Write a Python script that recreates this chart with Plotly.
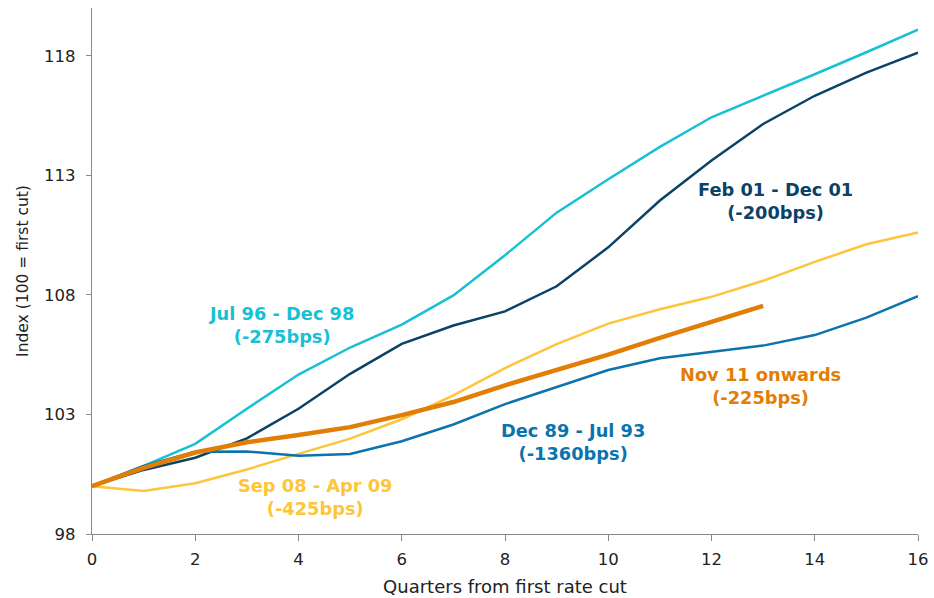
import plotly.graph_objects as go

quarters = list(range(17))
jul96_dec98 = [100, 100.85, 101.77, 103.24, 104.67, 105.8, 106.76, 107.98, 109.66, 111.44, 112.84, 114.19, 115.43, 116.32, 117.23, 118.15, 119.1]
feb01_dec01 = [100, 100.68, 101.19, 102.0, 103.24, 104.7, 105.95, 106.72, 107.31, 108.36, 109.99, 111.95, 113.62, 115.15, 116.33, 117.3, 118.13]
sep08_apr09 = [100, 99.8, 100.12, 100.7, 101.35, 101.99, 102.8, 103.8, 104.94, 105.94, 106.8, 107.4, 107.92, 108.59, 109.38, 110.12, 110.61]
dec89_jul93 = [100, 100.85, 101.44, 101.45, 101.27, 101.35, 101.88, 102.58, 103.43, 104.16, 104.86, 105.35, 105.6, 105.88, 106.32, 107.05, 107.95]
nov11_onwards = [100, 100.77, 101.41, 101.84, 102.14, 102.47, 102.97, 103.52, 104.22, 104.86, 105.5, 106.2, 106.88, 107.54]

series_names = ["Jul 96 - Dec 98", "Feb 01 - Dec 01", "Sep 08 - Apr 09", "Dec 89 - Jul 93", "Nov 11 onwards"]
label_texts = ["Jul 96 - Dec 98<br>(-275bps)", "Feb 01 - Dec 01<br>(-200bps)", "Sep 08 - Apr 09<br>(-425bps)",
               "Dec 89 - Jul 93<br>(-1360bps)", "Nov 11 onwards<br>(-225bps)"]
label_x = [3.68, 13.24, 4.32, 9.32, 12.95]
label_y = [106.76, 111.92, 99.55, 101.86, 104.2]

colors = ["#17C0D3", "#0B4266", "#FCC53A", "#0B73AD", "#E27D06"]
widths = [2.5, 2.5, 2.5, 2.5, 4.5]
data = [jul96_dec98, feb01_dec01, sep08_apr09, dec89_jul93, nov11_onwards]

fig = go.Figure()
for name, ys, c, w in zip(series_names, data, colors, widths):
    fig.add_trace(go.Scatter(x=quarters[:len(ys)], y=ys, mode="lines", name=name,
                             line=dict(color=c, width=w), showlegend=False))

for t, x, y, c in zip(label_texts, label_x, label_y, colors):
    fig.add_annotation(x=x, y=y, text="<b>" + t + "</b>", showarrow=False,
                       font=dict(family="DejaVu Sans", size=17.8, color=c), align="center")

fig.update_layout(
    width=934, height=598,
    margin=dict(l=92, r=16, t=8, b=64, autoexpand=False),
    plot_bgcolor="white", paper_bgcolor="white",
    font=dict(family="DejaVu Sans", size=15, color="#222222"),
)
fig.update_xaxes(range=[0, 16], tickvals=list(range(0, 17, 2)), showgrid=False, zeroline=False,
                 showline=True, linecolor="#898989", linewidth=1.2, ticks="outside", ticklen=6,
                 tickcolor="#898989", title=dict(text="Quarters from first rate cut", standoff=12),
                 tickfont=dict(size=16.5, color="#222222"), ticklabelstandoff=4, automargin=False)
fig.update_yaxes(range=[98, 120], tickvals=[98, 103, 108, 113, 118], showgrid=False, zeroline=False,
                 showline=True, linecolor="#898989", linewidth=1.2, ticks="outside", ticklen=5,
                 tickcolor="#898989", title=dict(text="Index (100 = first cut)", standoff=11, font=dict(size=15.5)),
                 tickfont=dict(size=16.5, color="#222222"), ticklabelstandoff=7, automargin=False)

fig.write_html("out.html", post_script="document.body.style.margin='0';",
               config={"displayModeBar": False})
